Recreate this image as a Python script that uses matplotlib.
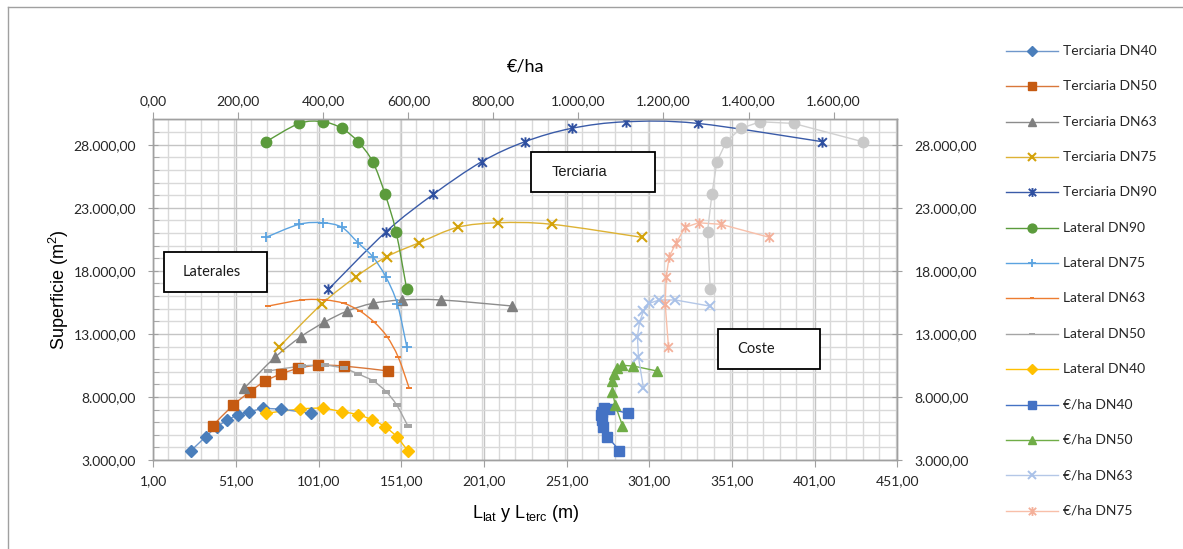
import numpy as np
import matplotlib
matplotlib.use("Agg")
import matplotlib.pyplot as plt
from matplotlib.path import Path
from matplotlib.patches import PathPatch, Rectangle
from matplotlib.lines import Line2D
from matplotlib.ticker import FuncFormatter, MultipleLocator

plt.rcParams['font.family'] = ['Lato', 'DejaVu Sans']
plt.rcParams['mathtext.fontset'] = 'custom'
plt.rcParams['mathtext.rm'] = 'Liberation Sans'
plt.rcParams['mathtext.it'] = 'Liberation Sans:italic'

# superficie (m2) per diameter, terciaria order
sup_dn40 = [3740, 4850, 5640, 6170, 6590, 6830, 7100, 7040, 6700]
sup_dn50 = [5720, 7360, 8420, 9260, 9820, 10270, 10510, 10450, 10060]
sup_dn63 = [8680, 11140, 12780, 13920, 14810, 15420, 15690, 15690, 15210]
sup_dn75 = [11980, 15380, 17530, 19120, 20230, 21450, 21810, 21690, 20660]
sup_dn90 = [16530, 21100, 24070, 26650, 28240, 29300, 29820, 29690, 28240]

# terciaria length (m)
lterc_dn40 = [23.8, 32.7, 39.3, 45.8, 52.0, 59.1, 67.2, 78.1, 96.4]
lterc_dn50 = [36.9, 49.4, 59.5, 68.7, 78.2, 88.7, 100.4, 116.3, 143.1]
lterc_dn63 = [55.9, 74.6, 90.3, 104.4, 118.3, 133.7, 151.6, 175.0, 218.1]
lterc_dn75 = [77.2, 103.0, 123.6, 142.2, 161.9, 185.0, 209.7, 242.0, 296.4]
lterc_dn90 = [106.9, 141.8, 170.4, 199.6, 225.8, 254.1, 286.9, 330.3, 405.6]

# lateral length (m), surfaces run in the opposite order
llat_dn90 = [69.2, 89.3, 103.5, 115.0, 124.8, 133.7, 141.2, 147.8, 154.3]
llat_dn75 = [69.2, 89.3, 103.5, 115.1, 124.8, 133.7, 141.6, 148.6, 154.3]
llat_dn63 = [70.6, 90.8, 104.9, 116.3, 126.0, 134.7, 142.4, 149.2, 155.8]
llat_dn50 = [70.6, 90.8, 104.9, 116.3, 124.9, 134.1, 141.8, 148.2, 154.9]
llat_dn40 = [69.2, 89.7, 103.5, 115.1, 125.0, 133.5, 141.1, 148.2, 154.9]

# cost (€/ha)
eur_dn40 = [1096.5, 1068.3, 1058.9, 1055.1, 1053.4, 1055.1, 1060.5, 1073.0, 1117.7]
eur_dn50 = [1103.6, 1086.4, 1080.0, 1080.0, 1084.7, 1090.4, 1102.1, 1129.4, 1184.5]
eur_dn63 = [1153.0, 1141.2, 1138.8, 1143.6, 1153.0, 1166.4, 1189.9, 1227.6, 1308.3]
eur_dn75 = [1211.8, 1204.0, 1206.4, 1213.5, 1229.9, 1251.1, 1282.4, 1335.1, 1448.8]
eur_dn90 = [1310.0, 1303.6, 1313.9, 1325.7, 1347.6, 1382.2, 1427.6, 1505.9, 1668.3]

star = Path([(-1, -1), (1, 1), (-1, 1), (1, -1), (0, -1.2), (0, 1.2)],
            [Path.MOVETO, Path.LINETO, Path.MOVETO, Path.LINETO, Path.MOVETO, Path.LINETO])
dash = Path([(-1, -0.45), (1, -0.45), (1, 0.45), (-1, 0.45), (-1, -0.45)],
            [Path.MOVETO, Path.LINETO, Path.LINETO, Path.LINETO, Path.CLOSEPOLY])

# label, x, y, axis, line color, marker color, marker, size, mew, smooth
series = [
    ("Terciaria DN40", lterc_dn40, sup_dn40, 'b', '#6F97CB', '#4A7EBB', 'D', 6, 1, False),
    ("Terciaria DN50", lterc_dn50, sup_dn50, 'b', '#D9773A', '#C55A11', 's', 7.5, 1, True),
    ("Terciaria DN63", lterc_dn63, sup_dn63, 'b', '#8C8C8C', '#7F7F7F', '^', 7.5, 1, True),
    ("Terciaria DN75", lterc_dn75, sup_dn75, 'b', '#DDB234', '#D4A20A', 'x', 6.5, 1.5, True),
    ("Terciaria DN90", lterc_dn90, sup_dn90, 'b', '#3A5BA8', '#2E4FA0', star, 7.5, 1.4, True),
    ("Lateral DN90", llat_dn90, sup_dn90[::-1], 'b', '#5B9B3C', '#5B9B3C', 'o', 7.5, 1, True),
    ("Lateral DN75", llat_dn75, sup_dn75[::-1], 'b', '#5BA3E0', '#5BA3E0', '+', 7.5, 1.3, True),
    ("Lateral DN63", llat_dn63, sup_dn63[::-1], 'b', '#ED7D31', '#ED7D31', dash, 4, 0, True),
    ("Lateral DN50", llat_dn50, sup_dn50[::-1], 'b', '#A5A5A5', '#A5A5A5', dash, 5.5, 0, True),
    ("Lateral DN40", llat_dn40, sup_dn40[::-1], 'b', '#FFC000', '#FFC000', 'D', 6.5, 1, True),
    ("€/ha DN40", eur_dn40, sup_dn40, 't', '#4472C4', '#4472C4', 's', 6.5, 1, False),
    ("€/ha DN50", eur_dn50, sup_dn50, 't', '#70AD47', '#70AD47', '^', 7, 1, False),
    ("€/ha DN63", eur_dn63, sup_dn63, 't', '#B4C7E7', '#A9C1E8', 'x', 6.5, 1.4, False),
    ("€/ha DN75", eur_dn75, sup_dn75, 't', '#F8BFA9', '#F4B09A', star, 7.5, 1.3, False),
    ("€/ha DN90", eur_dn90, sup_dn90, 't', '#D0D0D0', '#C9C9C9', 'o', 7.5, 1, False),
]


def es_fmt(v, pos=None):
    s = f"{v:,.2f}"
    return s.replace(",", "X").replace(".", ",").replace("X", ".")


def smooth_path(x, y):
    # bezier through the points, excel style
    pts = np.column_stack([x, y]).astype(float)
    n = len(pts)
    verts = [pts[0]]
    codes = [Path.MOVETO]
    for i in range(n - 1):
        p0 = pts[i - 1] if i > 0 else pts[i]
        p1 = pts[i]
        p2 = pts[i + 1]
        p3 = pts[i + 2] if i + 2 < n else pts[i + 1]
        verts += [p1 + (p2 - p0) / 6, p2 - (p3 - p1) / 6, p2]
        codes += [Path.CURVE4] * 3
    return Path(verts, codes)


W, H = 1183, 549
fig = plt.figure(figsize=(W / 100, H / 100), dpi=100)
ax = fig.add_axes([153.3 / W, 1 - 460 / H, 744 / W, 340.5 / H])
ax2 = ax.twiny()

ax.set_xlim(1, 451)
ax.set_ylim(3000, 30000)
ax2.set_xlim(0, 1750)

ax.xaxis.set_minor_locator(MultipleLocator(10))
ax.set_xticks(np.arange(1, 452, 50))
ax.set_yticks(np.arange(3000, 28001, 5000))
ax.yaxis.set_minor_locator(MultipleLocator(1000))
ax2.set_xticks(np.arange(0, 1601, 200))

ax.xaxis.set_major_formatter(FuncFormatter(es_fmt))
ax.yaxis.set_major_formatter(FuncFormatter(es_fmt))
ax2.xaxis.set_major_formatter(FuncFormatter(es_fmt))

ax.set_axisbelow(True)
ax.grid(which='minor', color='#D9D9D9', lw=1.0)
ax.grid(which='major', color='#C4C4C4', lw=1.0)

for a in (ax, ax2):
    for sp in a.spines.values():
        sp.set_color('#A0A0A0')
        sp.set_linewidth(1.0)

ax.tick_params(axis='y', which='major', direction='inout', length=7, color='#A0A0A0',
               labelsize=10, labelcolor='#262626', right=True, labelright=True, pad=9)
ax.tick_params(axis='y', which='minor', direction='in', length=4, color='#A0A0A0', right=False)
ax.tick_params(axis='x', which='major', direction='out', length=5, color='#A0A0A0',
               labelsize=10, labelcolor='#262626', pad=6)
ax.tick_params(axis='x', which='minor', length=0)
ax2.tick_params(axis='x', which='major', direction='out', length=5, color='#A0A0A0',
                labelsize=10, labelcolor='#262626', pad=4)

for lab, x, y, side, lc, mc, mk, ms, mew, sm in series:
    a = ax if side == 'b' else ax2
    if sm:
        a.add_patch(PathPatch(smooth_path(x, y), fill=False, edgecolor=lc, lw=1.0))
        a.plot(x, y, ls='none', marker=mk, ms=ms, mfc=mc, mec=mc, mew=mew)
    else:
        a.plot(x, y, color=lc, lw=1.0, marker=mk, ms=ms, mfc=mc, mec=mc, mew=mew)

ax.set_ylabel("Superficie (m$^2$)", family='Liberation Sans', fontsize=13, labelpad=2)
ax.set_xlabel(r"$\mathregular{L_{lat}}$ y $\mathregular{L_{terc}}$ (m)",
              family='Liberation Sans', fontsize=13, labelpad=11)
ax2.set_xlabel("€/ha", fontsize=13, labelpad=17)

# text boxes
boxes = [("Laterales", 164, 252, 103, 40, 183, 'Lato'),
         ("Terciaria", 531, 152, 124, 40, 552, 'Liberation Sans'),
         ("Coste", 718, 329, 102, 40, 737, 'Lato')]
for txt, bx, by, bw, bh, tx, fam in boxes:
    fig.add_artist(Rectangle((bx / W, 1 - (by + bh) / H), bw / W, bh / H,
                             transform=fig.transFigure, fill=True, fc='white',
                             ec='black', lw=1.3, zorder=5))
    fig.text(tx / W, 1 - (by + bh / 2) / H, txt, fontsize=10.5, family=fam,
             va='center', ha='left', zorder=6, color='#1a1a1a')

# legend
for i, (lab, x, y, side, lc, mc, mk, ms, mew, sm) in enumerate(series[:14]):
    yy = 1 - (51 + i * 35.35) / H
    fig.add_artist(Line2D([1006 / W, 1058 / W], [yy, yy], transform=fig.transFigure,
                          color=lc, lw=1.0))
    fig.add_artist(Line2D([1032 / W], [yy], transform=fig.transFigure, ls='none',
                          marker=mk, ms=ms * 0.85, mfc=mc, mec=mc, mew=mew))
    fig.text(1063 / W, yy, lab, fontsize=10, va='center', ha='left', color='#262626')

# chart border
fig.add_artist(Line2D([7.5 / W, 7.5 / W], [0, 1 - 6.5 / H], transform=fig.transFigure,
                      color='#A0A0A0', lw=1.0))
fig.add_artist(Line2D([7.5 / W, 1], [1 - 6.5 / H, 1 - 6.5 / H], transform=fig.transFigure,
                      color='#A0A0A0', lw=1.0))

fig.savefig("out.png", dpi=100)
